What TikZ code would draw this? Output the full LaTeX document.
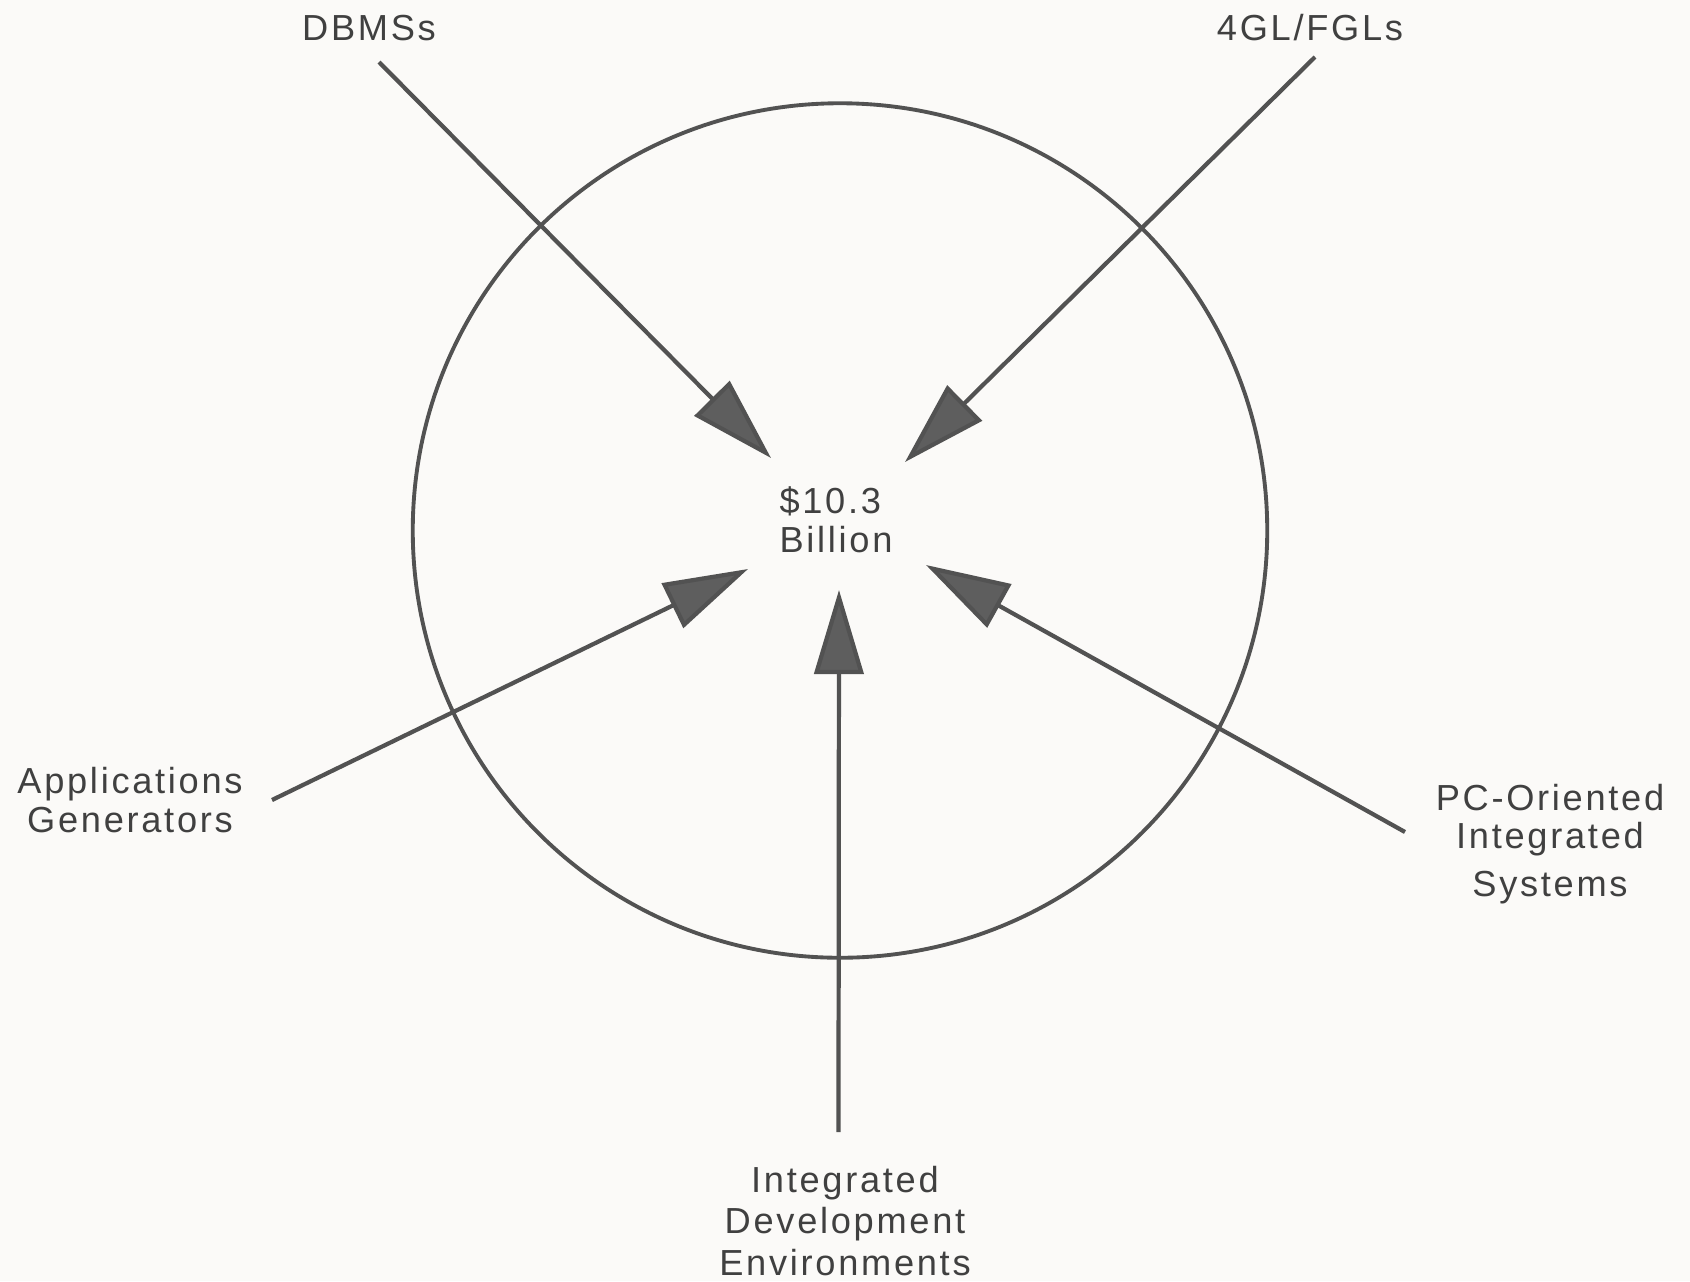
\documentclass[tikz,border=0pt]{standalone}
\usepackage{fontspec}
\setmainfont[LetterSpace=7.5]{Liberation Sans}
\usetikzlibrary{arrows.meta}
\definecolor{paper}{rgb}{0.984, 0.980, 0.973}
\definecolor{ink}{rgb}{0.25, 0.25, 0.25}
\definecolor{rim}{rgb}{0.32, 0.32, 0.32}
\definecolor{head}{rgb}{0.37, 0.37, 0.37}

\begin{document}
\begin{tikzpicture}[x=0.01cm,y=-0.01cm,
    label/.style={align=center,inner sep=0pt,text=ink,font=\fontsize{10.3}{11}\selectfont},
    feed/.style={draw=rim,line width=1.2pt,-{Triangle[length=0.84cm,width=0.49cm,fill=head]}}]
      \fill [paper] (0,0) rectangle (1690,1281);

      % market circle
      \coordinate (O) at (840,530.5);
      \draw [rim,line width=1.1pt] (O) circle [radius=4.27cm];

      % labels
      \node [label,align=left] (total) at (836,520) {\$10.3\\Billion};
      \node [label] (dbms) at (369,28) {DBMSs};
      \node [label] (fgl) at (1310,28) {4GL/FGLs};
      \node [label] (apps) at (130,800) {Applications\\Generators};
      \node [label] (pcis) at (1550,844) {PC-Oriented\\Integrated\\[2.5pt]Systems};
      \node [label] (ide) at (845,1221) {Integrated\\[0.8pt]Development\\[0.8pt]Environments};

      % arrow tails and tips
      \coordinate (dbmsT) at (379,62);    \coordinate (dbmsH) at (771,458);
      \coordinate (fglT) at (1315,57);    \coordinate (fglH) at (905,462);
      \coordinate (appsT) at (272,800);   \coordinate (appsH) at (748,569);
      \coordinate (ideT) at (838.5,1132); \coordinate (ideH) at (839,590);
      \coordinate (pcisT) at (1405,832);  \coordinate (pcisH) at (926,565);

      \draw [feed] (dbmsT) -- (dbmsH);
      \draw [feed] (fglT) -- (fglH);
      \draw [feed] (appsT) -- (appsH);
      \draw [feed] (ideT) -- (ideH);
      \draw [feed] (pcisT) -- (pcisH);
    \end{tikzpicture}
\end{document}
